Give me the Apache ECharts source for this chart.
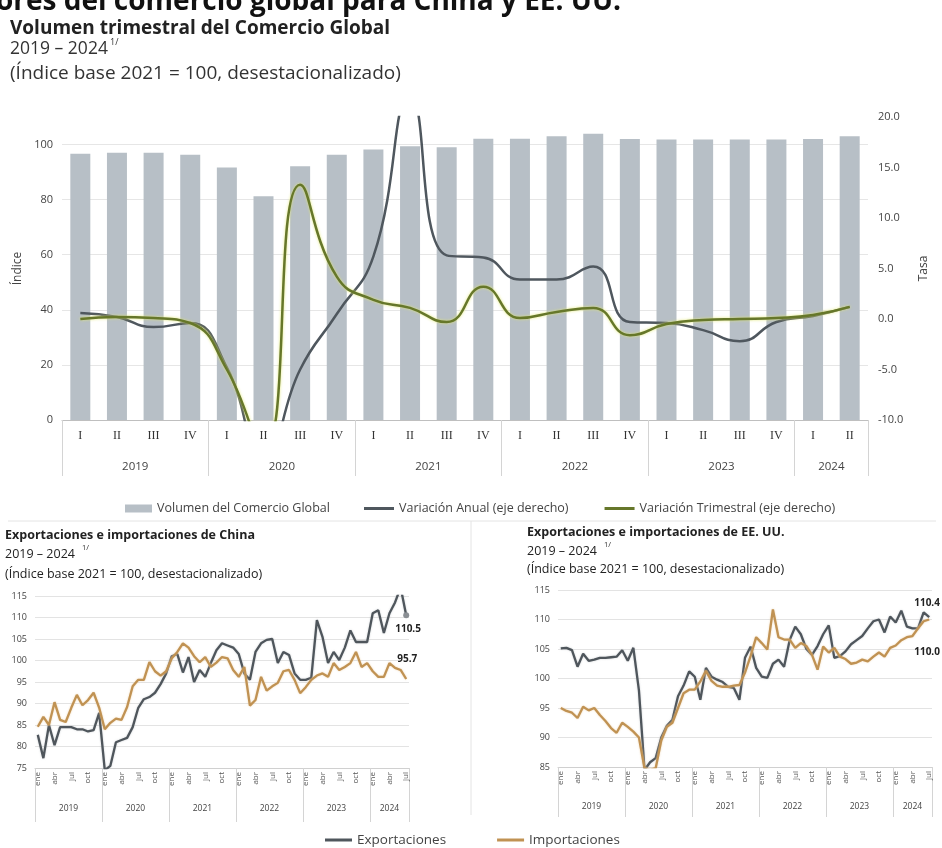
<!DOCTYPE html>
<html>
<head>
<meta charset="utf-8">
<script src="https://cdn.jsdelivr.net/npm/echarts@6/dist/echarts.min.js"></script>
<style>
  html, body { margin: 0; padding: 0; background: #fff; }
  #chart { width: 942px; height: 848px; }
</style>
</head>
<body>
<div id="chart"></div>
<script>
// Volumen trimestral (eje izq.) y tasas de variación (eje der.)
const quarterNames = ["I", "II", "III", "IV"];
const yearsTop = ["2019", "2020", "2021", "2022", "2023", "2024"];
const yearSpanTop = [4, 4, 4, 4, 4, 2];
const volumen = [96.7, 97.0, 97.0, 96.3, 91.7, 81.2, 92.1, 96.3, 98.2, 99.4, 99.0, 102.1,
                 102.1, 103.0, 103.9, 102.0, 101.8, 101.8, 101.8, 101.8, 102.0, 103.0];
const anual = [0.6, 0.2, -0.8, -0.4, -4.8, -14.0, -5.0, 0.5, 6.2, 22.0, 6.3, 6.1,
               3.9, 3.9, 5.2, -0.3, -0.4, -1.1, -2.2, -0.3, 0.3, 1.2];
const trimestral = [0.0, 0.2, 0.1, -0.4, -5.0, -13.0, 13.3, 4.2, 1.9, 1.1, -0.3, 3.2,
                    0.1, 0.7, 1.1, -1.6, -0.5, -0.1, 0.0, 0.1, 0.4, 1.2];

// Series mensuales ene 2019 - jul 2024
const monthNames = ["ene", "feb", "mar", "abr", "may", "jun", "jul", "ago", "sep", "oct", "nov", "dic"];
const yearsMonthly = ["2019", "2020", "2021", "2022", "2023", "2024"];
const yearSpanMonthly = [12, 12, 12, 12, 12, 7];
const chinaExp = [82.7, 77.3, 85, 80.3, 84.5, 84.5, 84.5, 84, 84, 83.5, 83.8, 87.8,
                  74.5, 75.5, 81, 81.5, 82, 84.5, 89, 91, 91.5, 92.5, 94.5, 97,
                  101, 101.5, 97.2, 100.8, 95, 97.8, 96.2, 99.4, 102.4, 104, 103.5, 103,
                  101.5, 97, 95.5, 102, 104, 104.8, 105, 99.4, 102, 101.3, 97, 95.5,
                  95.5, 96, 109.4, 105.5, 99.4, 102, 100.1, 103, 107, 104.3, 104.3, 104.3,
                  111, 111.7, 106.4, 111, 113.5, 117, 110.5];
const chinaImp = [84.6, 86.9, 85, 90.3, 86.2, 85.7, 89, 92, 89.6, 90.8, 92.5, 89,
                  84, 85.5, 86.5, 86.2, 89.2, 94, 95.5, 95.5, 99.6, 97.5, 96.5, 97.5,
                  100.5, 102, 104, 103, 101, 99.6, 100.8, 98.5, 99.5, 100.8, 100.5, 97.8,
                  96.2, 98.5, 89.5, 90.8, 96.2, 93, 94, 94.8, 97.5, 97.8, 95.5, 92.4,
                  93.8, 95.5, 96.5, 97, 96.2, 99.4, 97.8, 98.5, 99.4, 102, 98.5, 99.4,
                  97.5, 96.2, 96.2, 99.4, 98.3, 97.8, 95.7];
const usExp = [105.1, 105.2, 104.8, 102, 104.2, 103, 103.2, 103.5, 103.5, 103.6, 103.7, 104.8,
               103, 105.2, 98, 84.5, 85.8, 86.5, 90, 92, 93, 97, 98.8, 101.2,
               100.3, 96.4, 101.8, 100.3, 99.8, 99.4, 98.6, 98.4, 96.4, 103.5, 105.4, 101.8,
               100.3, 100.1, 102.5, 103.2, 102, 106.5, 108.8, 107.5, 105, 104, 105.5, 107.5,
               109, 103.5, 103.8, 104.6, 105.8, 106.5, 107.2, 108.5, 109.7, 110, 107.8, 110.5,
               109.5, 111.5, 108.8, 108.5, 108.5, 111.2, 110.4];
const usImp = [95, 94.5, 94.2, 93.3, 95.2, 94.6, 95, 93.8, 92.8, 91.6, 90.8, 92.5,
               91.8, 91, 90, 84.8, 84.5, 84.8, 89.5, 91.8, 92.5, 95, 97.5, 98.1,
               98.1, 99.5, 101.3, 99.6, 98.8, 98.6, 98.6, 98.8, 98.9, 101, 103.8, 107,
               106, 104.9, 111.7, 107, 106.6, 106.6, 105.2, 106, 105.5, 104, 101.5, 105.4,
               104.4, 105.2, 103.7, 103.3, 102.5, 102.7, 103.2, 102.9, 103.7, 104.4, 103.7, 105.2,
               105.6, 106.5, 107, 107.2, 108.5, 109.7, 110];

const FONT = "Open Sans";

// categorias unicas "I 2019", "ene 2019"...; la etiqueta muestra solo la primera parte
function buildCats(names, years, spans) {
  const out = [];
  years.forEach((y, k) => {
    for (let i = 0; i < spans[k]; i++) out.push(names[i] + " " + y);
  });
  return out;
}
function bounds(spans) {
  const b = [0];
  spans.forEach(s => b.push(b[b.length - 1] + s));
  return b;
}
function mids(spans) {
  const b = bounds(spans);
  return spans.map((s, k) => b[k] + s / 2);
}
// eje de años: separadores verticales y etiqueta centrada en cada grupo
function yearAxis(gridIndex, years, spans, tickLen, margin, fontSize) {
  const b = bounds(spans);
  const m = mids(spans);
  return {
    type: "value", gridIndex: gridIndex, position: "bottom",
    min: 0, max: b[b.length - 1],
    axisLine: { show: false, onZero: false },
    splitLine: { show: false },
    axisTick: { show: true, customValues: b, length: tickLen, lineStyle: { color: "#d4d4d4" } },
    axisLabel: {
      customValues: m, margin: margin, fontSize: fontSize, color: "#444", fontFamily: FONT,
      formatter: v => { const k = m.indexOf(v); return k >= 0 ? years[k] : ""; }
    }
  };
}

const quarterCats = buildCats(quarterNames, yearsTop, yearSpanTop);
const monthCats = buildCats(monthNames, yearsMonthly, yearSpanMonthly);

function monthAxis(gridIndex) {
  return {
    type: "category", gridIndex: gridIndex, data: monthCats, boundaryGap: true,
    axisLine: { onZero: false, lineStyle: { color: "#d0d0d0" } },
    axisTick: { show: false },
    axisLabel: {
      interval: (idx) => idx % 3 === 0, rotate: 90, fontSize: 8, margin: 4,
      color: "#555", fontFamily: FONT, formatter: v => v.split(" ")[0]
    }
  };
}
function lineSeries(name, xi, yi, data, color, glow, endLab) {
  return {
    name: name, type: "line", xAxisIndex: xi, yAxisIndex: yi, data: data,
    symbol: "none", color: color,
    lineStyle: { color: color, width: 2.3, shadowColor: glow, shadowBlur: 2 },
    endLabel: {
      show: true, formatter: String(data[data.length - 1].toFixed(1)),
      offset: endLab, fontSize: 10, fontWeight: "bold", color: "#222", fontFamily: FONT
    }
  };
}

const chart = echarts.init(document.getElementById("chart"));
const smallTitle = { fontFamily: FONT, fontSize: 12.5, color: "#222", fontWeight: "normal" };
const smallBold = { fontFamily: FONT, fontSize: 12.5, color: "#222", fontWeight: "bold" };
const supStyle = { fontFamily: FONT, fontSize: 7.5, color: "#333", fontWeight: "normal" };

chart.setOption({
  animation: false,
  textStyle: { fontFamily: FONT },
  title: [
    { text: "ores del comercio global para China y EE. UU.", left: -4, top: -12, padding: 0,
      textStyle: { fontFamily: FONT, fontSize: 28, fontWeight: "bold", color: "#111" } },
    { text: "Volumen trimestral del Comercio Global", left: 10, top: 19, padding: 0,
      textStyle: { fontFamily: FONT, fontSize: 19, fontWeight: "bold", color: "#222" } },
    { text: "2019 – 2024", left: 10, top: 40, padding: 0,
      textStyle: { fontFamily: FONT, fontSize: 17.5, fontWeight: "normal", color: "#333" } },
    { text: "1/", left: 110, top: 38, padding: 0,
      textStyle: { fontFamily: FONT, fontSize: 9, fontWeight: "normal", color: "#333" } },
    { text: "(Índice base 2021 = 100, desestacionalizado)", left: 10, top: 64, padding: 0,
      textStyle: { fontFamily: FONT, fontSize: 19, fontWeight: "normal", color: "#333" } },

    { text: "Exportaciones e importaciones de China", left: 5, top: 529, padding: 0, textStyle: smallBold },
    { text: "2019 – 2024", left: 5, top: 548, padding: 0, textStyle: smallTitle },
    { text: "1/", left: 82, top: 544, padding: 0, textStyle: supStyle },
    { text: "(Índice base 2021 = 100, desestacionalizado)", left: 5, top: 568, padding: 0, textStyle: smallTitle },

    { text: "Exportaciones e importaciones de EE. UU.", left: 527, top: 526, padding: 0, textStyle: smallBold },
    { text: "2019 – 2024", left: 527, top: 545, padding: 0, textStyle: smallTitle },
    { text: "1/", left: 604, top: 541, padding: 0, textStyle: supStyle },
    { text: "(Índice base 2021 = 100, desestacionalizado)", left: 527, top: 563, padding: 0, textStyle: smallTitle }
  ],
  graphic: [
    { type: "line", shape: { x1: 8, y1: 521, x2: 936, y2: 521 }, style: { stroke: "#e4e4e4", lineWidth: 1 } },
    { type: "line", shape: { x1: 471, y1: 521, x2: 471, y2: 815 }, style: { stroke: "#e4e4e4", lineWidth: 1 } }
  ],
  legend: [
    {
      left: 120, top: 497, itemWidth: 27, itemHeight: 8, icon: "rect",
      textStyle: { fontSize: 12.5, color: "#444", fontFamily: FONT },
      data: ["Volumen del Comercio Global"]
    },
    {
      left: 359, top: 497, itemWidth: 30, itemHeight: 3, itemGap: 36, icon: "rect",
      textStyle: { fontSize: 12.5, color: "#444", fontFamily: FONT },
      data: ["Variación Anual (eje derecho)", "Variación Trimestral (eje derecho)"]
    },
    {
      left: 320, top: 828, itemWidth: 27, itemHeight: 3, itemGap: 51, icon: "rect",
      textStyle: { fontSize: 13.5, color: "#444", fontFamily: FONT },
      data: ["Exportaciones", "Importaciones"]
    }
  ],
  grid: [
    { left: 62, right: 74, top: 117, height: 303 },
    { left: 35, width: 374, top: 596, height: 172 },
    { left: 558, width: 374, top: 590, height: 177 }
  ],
  xAxis: [
    {
      type: "category", gridIndex: 0, data: quarterCats, boundaryGap: true,
      axisLine: { onZero: false, lineStyle: { color: "#bfbfbf" } },
      axisTick: { show: false },
      axisLabel: { interval: 0, margin: 10, fontSize: 12, color: "#333",
                   fontFamily: "Liberation Serif", formatter: v => v.split(" ")[0] }
    },
    yearAxis(0, yearsTop, yearSpanTop, 56, 41, 11.5),
    monthAxis(1),
    yearAxis(1, yearsMonthly, yearSpanMonthly, 54, 36, 8.5),
    monthAxis(2),
    yearAxis(2, yearsMonthly, yearSpanMonthly, 50, 35, 8.5)
  ],
  yAxis: [
    {
      type: "value", gridIndex: 0, min: 0, max: 110, interval: 20,
      name: "Índice", nameLocation: "middle", nameGap: 38, nameRotate: 90,
      nameTextStyle: { fontSize: 12, color: "#444", fontFamily: FONT },
      axisLabel: { showMaxLabel: false, fontSize: 11, color: "#444", margin: 9 },
      axisLine: { show: false }, axisTick: { show: false },
      splitLine: { showMaxLine: false, lineStyle: { color: "#e6e6e6" } }
    },
    {
      type: "value", gridIndex: 0, position: "right", min: -10, max: 20, interval: 5,
      name: "Tasa", nameLocation: "middle", nameGap: 50, nameRotate: 90,
      nameTextStyle: { fontSize: 12, color: "#444", fontFamily: FONT },
      axisLabel: { fontSize: 11, color: "#444", margin: 10, formatter: v => v.toFixed(1) },
      axisLine: { show: false }, axisTick: { show: false },
      splitLine: { show: false }
    },
    {
      type: "value", gridIndex: 1, min: 75, max: 115, interval: 5,
      axisLabel: { fontSize: 9, color: "#444", margin: 8 },
      axisLine: { show: false }, axisTick: { show: false },
      splitLine: { lineStyle: { color: "#e3e3e3" } }
    },
    {
      type: "value", gridIndex: 2, min: 85, max: 115, interval: 5,
      axisLabel: { fontSize: 9, color: "#444", margin: 8 },
      axisLine: { show: false }, axisTick: { show: false },
      splitLine: { lineStyle: { color: "#e3e3e3" } }
    }
  ],
  series: [
    {
      name: "Volumen del Comercio Global", type: "bar", xAxisIndex: 0, yAxisIndex: 0,
      data: volumen, barWidth: 20, color: "#b7bfc6"
    },
    {
      name: "Variación Anual (eje derecho)", type: "line", xAxisIndex: 0, yAxisIndex: 1,
      data: anual, smooth: 0.5, symbol: "none", color: "#4f575e",
      lineStyle: { color: "#4f575e", width: 2.5 }
    },
    {
      name: "Variación Trimestral (eje derecho)", type: "line", xAxisIndex: 0, yAxisIndex: 1,
      data: trimestral, smooth: 0.5, symbol: "none", color: "#66772a",
      lineStyle: { color: "#66772a", width: 2.5, shadowColor: "rgba(225,232,110,0.9)", shadowBlur: 3 }
    },
    Object.assign(lineSeries("Exportaciones", 2, 2, chinaExp, "#4f565c", "rgba(170,175,180,0.6)", [-19, 14]), {
      markPoint: { symbol: "circle", symbolSize: 6, itemStyle: { color: "#8a8f94" }, label: { show: false },
                   data: [{ coord: [chinaExp.length - 1, chinaExp[chinaExp.length - 1]] }] }
    }),
    lineSeries("Importaciones", 2, 2, chinaImp, "#c09253", "rgba(235,205,160,0.8)", [-17, -20]),
    lineSeries("Exportaciones", 4, 3, usExp, "#4f565c", "rgba(170,175,180,0.6)", [-23, -14]),
    lineSeries("Importaciones", 4, 3, usImp, "#c09253", "rgba(235,205,160,0.8)", [-23, 33])
  ]
});
</script>
</body>
</html>
